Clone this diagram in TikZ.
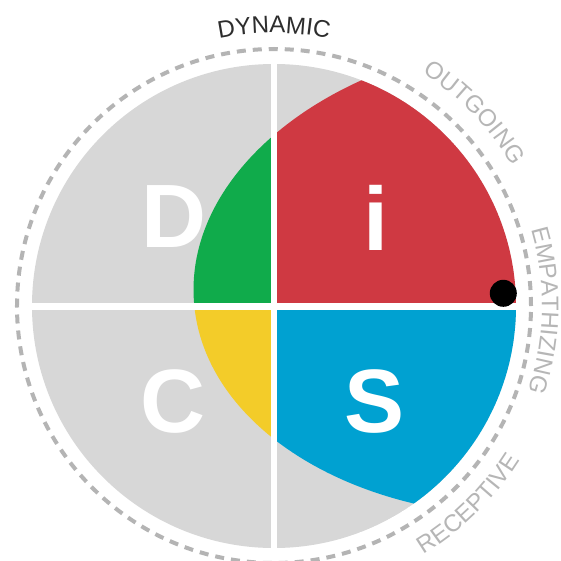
\documentclass[tikz,border=0pt]{standalone}
\usepackage{fontspec}
\setmainfont{Liberation Sans}
\usetikzlibrary{decorations.text}
\definecolor{discgrey}{RGB}{215,215,215}
\definecolor{dgreen}{RGB}{16,171,75}
\definecolor{dred}{RGB}{207,57,66}
\definecolor{dyellow}{RGB}{243,204,41}
\definecolor{dblue}{RGB}{0,161,209}
\definecolor{dashgrey}{RGB}{180,180,180}
\definecolor{lblgrey}{RGB}{182,182,182}
\definecolor{dyncol}{RGB}{45,45,45}
\newcommand\lblfont{\fontsize{24}{24}\selectfont}
\tikzset{
  bigletter/.style={text=white, font=\fontsize{90}{90}\selectfont\bfseries, anchor=base, inner sep=0pt},
  arclabel/.style={decorate, decoration={text along path, text={|\lblfont|#1}, text align=center, text color=lblgrey}},
}
\begin{document}
\begin{tikzpicture}[x=1pt,y=1pt]
\useasboundingbox (-274,-254) rectangle (287,306);
\fill[white] (-274,-254) rectangle (287,306);
% disc with coloured ellipse
\begin{scope}
  \clip (0,0) circle (242);
  \fill[discgrey] (0,0) circle (242);
  \clip (270.4,28.6) ellipse [x radius=351.3, y radius=238.3, rotate=3.77];
  \fill[dgreen]  (-250,0) rectangle (0,250);
  \fill[dred]    (0,0) rectangle (250,250);
  \fill[dyellow] (-250,-250) rectangle (0,0);
  \fill[dblue]   (0,-250) rectangle (250,0);
\end{scope}
% separators
\fill[white] (-3.4,-243) rectangle (3.4,243);
\fill[white] (-243,-4.1) rectangle (243,3.3);
% dashed ring
\draw[dashgrey, line width=4pt, dash pattern=on 9pt off 7pt] (0,0) circle (257);
% marker dot
\fill[black] (229.3,12.7) circle (13.5);
% letters
\node[bigletter] (lD) at (-100.5,59) {D};
\node[bigletter] (li) at (102,56) {i};
\node[bigletter] (lC) at (-101,-126) {C};
\node[bigletter] (lS) at (101,-126) {S};
% arc labels
\path[decorate, decoration={text along path, text={|\lblfont|DYNAMIC}, text align=center, text color=dyncol}]
  (120:273) arc[start angle=120, end angle=60, radius=273];
\path[arclabel=OUTGOING] (74:276.5) arc[start angle=74, end angle=14, radius=276.5];
\path[arclabel=EMPATHIZING] (29:268) arc[start angle=29, end angle=-31, radius=268];
\path[arclabel=RECEPTIVE] (-75.5:290) arc[start angle=-75.5, end angle=-15.5, radius=290];
\end{tikzpicture}
\end{document}
